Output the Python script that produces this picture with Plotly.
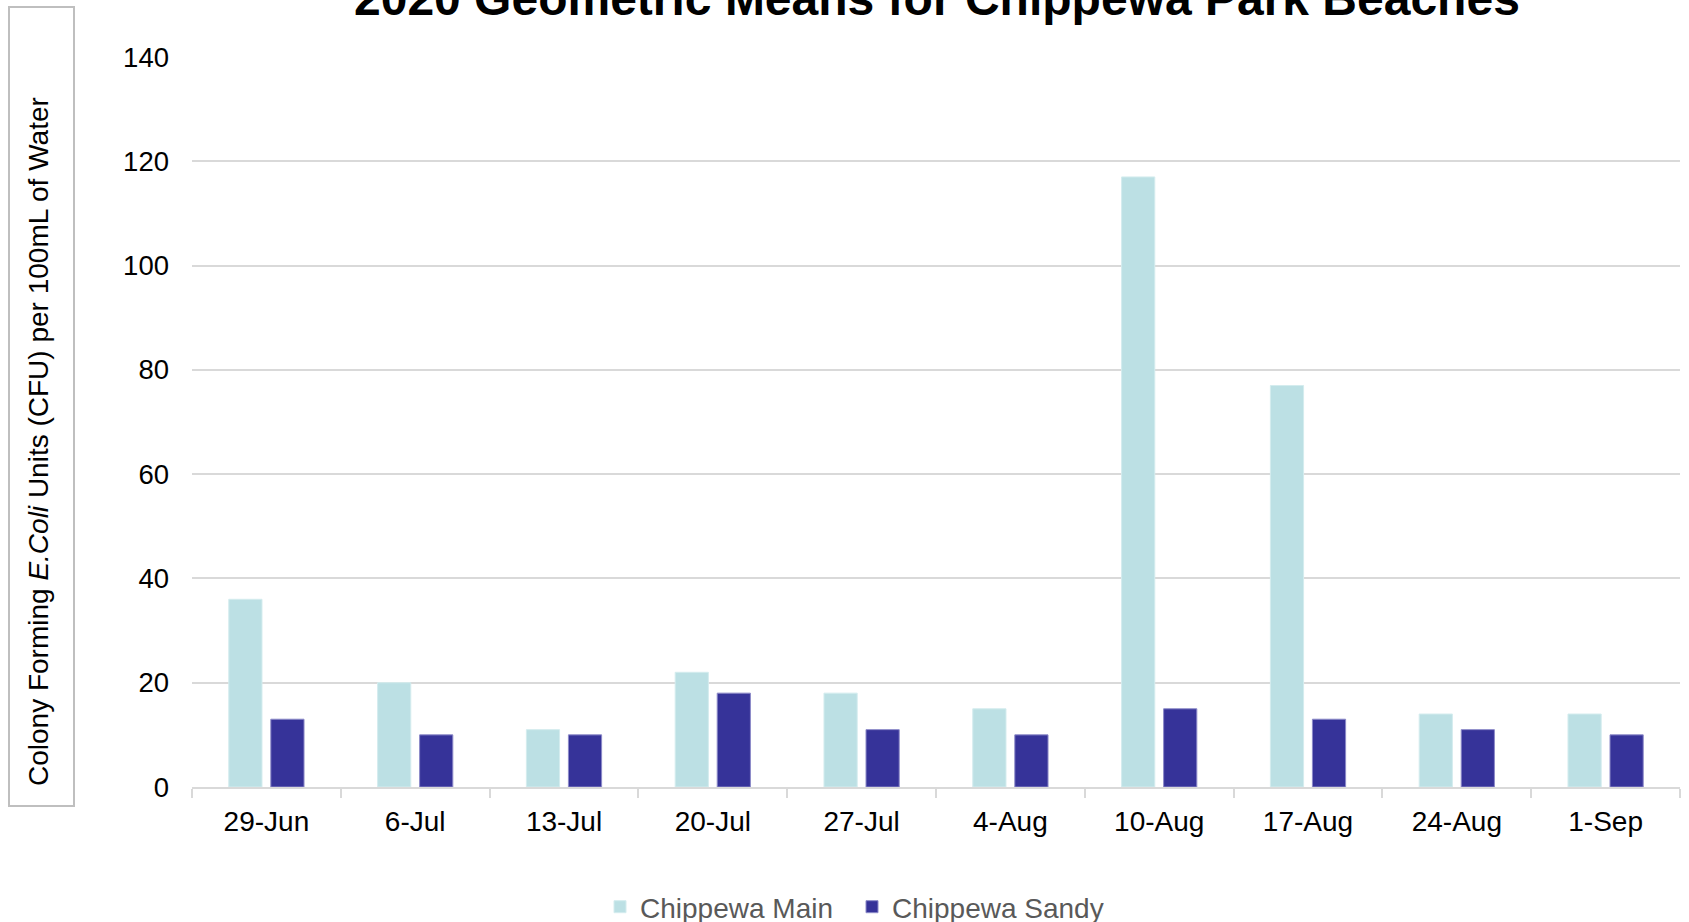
import plotly.graph_objects as go

categories = ["29-Jun", "6-Jul", "13-Jul", "20-Jul", "27-Jul", "4-Aug", "10-Aug", "17-Aug", "24-Aug", "1-Sep"]
main_values = [36, 20, 11, 22, 18, 15, 117, 77, 14, 14]
sandy_values = [13, 10, 10, 18, 11, 10, 15, 13, 11, 10]
series_names = ["Chippewa Main", "Chippewa Sandy"]
y_ticks = [0, 20, 40, 60, 80, 100, 120, 140]

# Figure is taller than the 922px window so the legend never pushes the margins;
# the page's default body margin is removed after plotting.
W, H = 1689, 950
L, R, T = 192, 9, 57
AXIS_BOTTOM = 787
B = H - AXIS_BOTTOM
PW, PH = W - L - R, H - T - B

def px(x):
    return (x - L) / PW

def py(y):
    return (AXIS_BOTTOM - y) / PH

FONT = "Liberation Sans, Arial, sans-serif"

fig = go.Figure()
fig.add_trace(go.Bar(x=categories, y=main_values, name=series_names[0],
                     marker=dict(color="#BCE0E4", line=dict(color="#D4ECEE", width=1))))
fig.add_trace(go.Bar(x=categories, y=sandy_values, name=series_names[1],
                     marker=dict(color="#363399", line=dict(color="#8C8AC8", width=1))))

fig.update_layout(
    width=W, height=H,
    margin=dict(l=L, r=R, t=T, b=B),
    paper_bgcolor="white", plot_bgcolor="white",
    barmode="group", bargap=0.435, bargroupgap=0.21,
    font=dict(family=FONT, color="#000000"),
    showlegend=True,
    legend=dict(orientation="h", x=px(852), xanchor="center", y=py(907), yanchor="middle",
                font=dict(size=28, color="#595959", family=FONT), itemwidth=30,
                entrywidth=207, traceorder="normal"),
)

fig.update_xaxes(
    type="category", showgrid=False, showline=True, linecolor="#D9D9D9", linewidth=2,
    ticks="outside", tickson="boundaries", ticklen=9, tickcolor="#D9D9D9", tickwidth=2,
    tickfont=dict(size=28, color="#000000", family=FONT), ticklabelstandoff=8,
    automargin=False,
)
fig.update_yaxes(
    range=[0, 140], tickvals=y_ticks, showgrid=True, gridcolor="#D9D9D9", gridwidth=2,
    zeroline=False, showline=False, ticks="", ticklabelstandoff=22,
    tickfont=dict(size=27.5, color="#000000", family=FONT), automargin=False,
)

# Title (partially cropped at top, as in the reference)
fig.add_annotation(
    text="<b>2020 Geometric Means for Chippewa Park Beaches</b>",
    xref="paper", yref="paper", x=px(937), y=py(-1.5), xanchor="center", yanchor="middle",
    showarrow=False, font=dict(size=48, color="#000000", family=FONT),
)

# Y-axis title with box
fig.add_shape(type="rect", xref="paper", yref="paper",
              x0=px(9), x1=px(74), y0=py(806), y1=py(7),
              line=dict(color="#BFBFBF", width=2), fillcolor="rgba(0,0,0,0)")
fig.add_annotation(
    text="Colony Forming <i>E.Coli</i> Units (CFU) per 100mL of Water",
    xref="paper", yref="paper", x=px(38), y=py(442), xanchor="center", yanchor="middle",
    textangle=-90, showarrow=False, font=dict(size=28, color="#000000", family=FONT),
)

fig.write_html(
    "out.html",
    config={"displayModeBar": False},
    post_script="document.body.style.margin='0';document.body.style.overflow='hidden';",
)
